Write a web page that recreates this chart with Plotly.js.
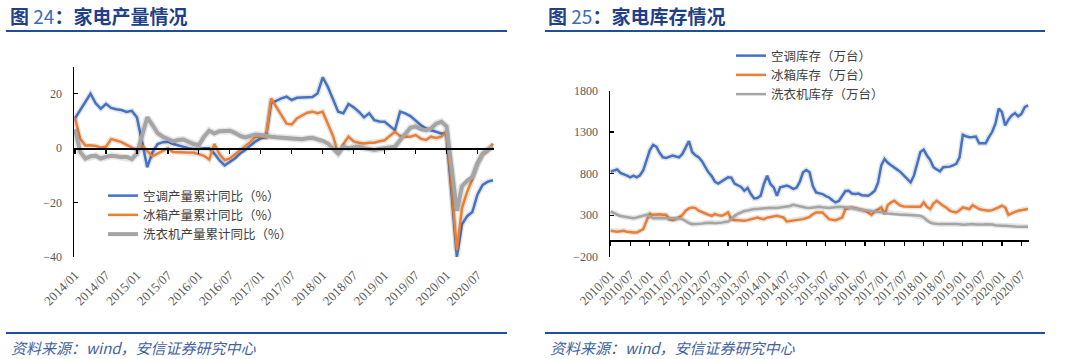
<!DOCTYPE html>
<html><head><meta charset="utf-8">
<script src="https://cdn.plot.ly/plotly-3.0.1.min.js"></script>
<style>html,body{margin:0;padding:0;background:#fff}#chart{width:1080px;height:359px}</style>
</head><body><div id="chart"></div>
<script>
// ---------- data: left panel (家电产量, 累计同比 %) ----------
const leftStart = [2014, 1], leftCount = 82;
const leftTickLabels = ['2014/01','2014/07','2015/01','2015/07','2016/01','2016/07','2017/01','2017/07','2018/01','2018/07','2019/01','2019/07','2020/01','2020/07'];
const acOutputYoY = [11,14,17,20,16.5,14.5,16.3,14.8,14.3,14,13.3,13.7,
  11.3,2,-7,-1.5,1.5,2.2,2.3,1.5,1,0.3,0,-0.3,
  -0.3,0,0,-2,-4.5,-6.3,-5,-3.8,-2,-0.7,1,2.5,
  3.6,4,16.5,17.5,18.3,18.9,17.7,18.5,18.7,18.7,18.8,20.1,
  26,22.5,18,13.4,12.8,16.2,15,13.4,11.3,12.8,10.3,9.8,
  9.7,8,6.6,13.4,12.8,11.8,10,8.5,7.2,6.6,6,5.4,
  5.4,-17,-40,-28,-25,-23.5,-17,-13.5,-12.3,-11.8];
const fridgeOutputYoY = [11,3.5,1,1.1,0.8,0.2,0.5,3.3,2.8,2.2,1.2,0.3,
  -0.7,1,-1,-3,-2,-1,0,-1.4,-1.5,-1.7,-1.7,-1.7,
  -2.2,-2.8,-4.2,1.5,-2.2,-4.4,-3.8,-2.3,-0.7,0.8,2.3,4.2,
  4,4,18.3,15.2,12.5,9,8.7,10.9,12,13,13.4,12.8,
  13.4,9,4.5,-2,1.5,4.2,2.5,2,1.7,2,2,2.5,
  2.9,4.5,6,4.5,4.2,4.2,4.8,3.5,3,4.2,3.7,4.2,
  6,-15,-37.6,-22,-16,-11.5,-6,-2.5,-1,1.7];
const washerOutputYoY = [7,-1.4,-3.8,-3,-2.8,-3.8,-3.2,-2.8,-3,-3.3,-3.2,-4,
  -2,5,11.3,8.5,5.5,4.2,3.2,2.5,3,3.2,2.3,1.5,
  1.1,4.2,6.4,5.4,6.2,6.2,6.4,5.6,4.5,3.9,4.5,5,
  4.8,4.4,4.2,4,3.9,3.6,3.5,3.4,3.3,3.6,3.8,3.2,
  2.7,1.7,0,-2,0.5,0,0.3,0.5,0,-0.5,-0.7,-0.3,
  0,0.3,0.5,2.9,5.5,7.5,8,7,6.6,7.2,9,9.7,
  8,-8,-23,-14,-12,-10.6,-5.6,-2,-0.5,0.5];
const leftNames = ['空调产量累计同比（%）','冰箱产量累计同比（%）','洗衣机产量累计同比（%）'];

// ---------- data: right panel (家电库存, 万台) ----------
const rightStart = [2010, 1], rightCount = 129;
const rightTickLabels = ['2010/01','2010/07','2011/01','2011/07','2012/01','2012/07','2013/01','2013/07','2014/01','2014/07','2015/01','2015/07','2016/01','2016/07','2017/01','2017/07','2018/01','2018/07','2019/01','2019/07','2020/01','2020/07'];
const acInventory = [823,840,850,808,796,775,755,775,755,780,
  840,950,1080,1146,1125,1050,996,989,1000,1017,
  1005,996,1037,1120,1190,1060,1020,996,950,880,
  815,770,700,680,700,730,755,750,680,655,
  640,594,627,554,500,505,534,675,775,675,
  634,534,634,645,655,640,615,630,700,815,
  844,815,650,574,560,554,530,513,480,453,
  470,534,590,594,560,554,560,540,534,534,
  560,594,690,900,977,930,900,876,845,815,
  775,735,694,775,936,1060,1089,1017,965,876,
  850,827,876,880,884,900,917,996,1267,1250,
  1238,1240,1246,1165,1165,1165,1238,1300,1400,1581,
  1540,1379,1450,1500,1528,1488,1520,1600,1621];
const fridgeInventory = [111,105,99,105,111,100,91,91,91,110,
  132,232,320,304,310,312,305,304,250,240,
  252,280,300,353,380,393,385,353,335,320,
  305,292,312,300,292,310,332,252,240,238,
  235,232,240,252,262,272,260,252,270,280,
  285,292,282,272,224,228,232,240,248,252,
  265,280,310,332,332,332,290,252,245,240,
  255,272,373,385,393,383,373,365,353,330,
  304,344,370,393,312,420,455,473,440,413,
  405,401,401,401,401,401,453,400,373,440,
  473,440,413,390,353,340,332,360,393,383,
  373,420,400,373,365,355,353,360,373,393,
  413,393,304,325,340,353,360,373,373];
const washerInventory = [344,320,305,290,282,275,268,264,272,282,
  295,304,285,264,264,264,264,266,270,272,
  265,258,252,230,205,192,192,192,198,205,
  211,208,204,204,210,218,224,250,292,315,
  335,350,355,365,373,375,380,388,393,390,
  387,385,392,398,401,410,425,415,401,395,
  390,385,392,398,401,395,388,385,392,398,
  401,398,396,393,385,378,373,365,358,353,
  350,346,344,336,328,320,315,310,304,304,
  304,304,304,300,296,292,272,240,211,200,
  192,192,192,194,197,199,195,190,184,188,
  192,192,188,184,186,190,192,188,178,171,
  171,171,171,167,163,159,159,159,159];
const rightNames = ['空调库存（万台）','冰箱库存（万台）','洗衣机库存（万台）'];

// ---------- helpers ----------
function monthLabels(start, n){
  const out=[]; let y=start[0], m=start[1];
  for(let i=0;i<n;i++){ out.push(y+'/'+String(m).padStart(2,'0')); m++; if(m>12){m=1;y++;} }
  return out;
}
const leftCats = monthLabels(leftStart, leftCount);
const rightCats = monthLabels(rightStart, rightCount);

const W=1080, H=359;
const fx = px => px/W, fy = py => 1 - py/H;
const colors = ['#4472C4','#ED7D31','#A5A5A5'];
const serif = 'Liberation Serif, Times New Roman, serif';
const cjk = 'Noto Sans CJK SC, sans-serif';

// geometry
const L = {x0:74, x1:494, yTop:66.5, yBot:257, yr:[-40,30], xr:[-0.2, leftCount-1+0.2]};
const R = {x0:610, x1:1029, yTop:90.5, yBot:256.7, yr:[-200,1800], xr:[-0.2, rightCount-1+0.3]};
function zeroPos(P){ const d0=fy(P.yBot), d1=fy(P.yTop); return d0 + (d1-d0)*(0-P.yr[0])/(P.yr[1]-P.yr[0]); }

const traces = [];
function addSeries(cats, vals, name, color, width, xa, ya, legend){
  traces.push({x:cats, y:vals, type:'scatter', mode:'lines', xaxis:xa, yaxis:ya, showlegend:false, hoverinfo:'skip',
    line:{color:'rgba(0,0,0,0.10)', width:width+3}});
  traces.push({x:cats, y:vals, type:'scatter', mode:'lines', name:name, xaxis:xa, yaxis:ya, legend:legend,
    line:{color:color, width:width}});
}
addSeries(leftCats, acOutputYoY, leftNames[0], colors[0], 2.5, 'x', 'y', 'legend');
addSeries(leftCats, fridgeOutputYoY, leftNames[1], colors[1], 2.5, 'x', 'y', 'legend');
addSeries(leftCats, washerOutputYoY, leftNames[2], colors[2], 4, 'x', 'y', 'legend');
addSeries(rightCats, acInventory, rightNames[0], colors[0], 2.5, 'x3', 'y3', 'legend2');
addSeries(rightCats, fridgeInventory, rightNames[1], colors[1], 2.5, 'x3', 'y3', 'legend2');
addSeries(rightCats, washerInventory, rightNames[2], colors[2], 2.5, 'x3', 'y3', 'legend2');
// helper traces so that the zero-line tick axes are created
traces.push({x:[0], y:[0], xaxis:'x2', yaxis:'y', mode:'lines', showlegend:false, hoverinfo:'skip', line:{color:'rgba(0,0,0,0)'}});
traces.push({x:[0], y:[0], xaxis:'x4', yaxis:'y3', mode:'lines', showlegend:false, hoverinfo:'skip', line:{color:'rgba(0,0,0,0)'}});

function catAxis(P, labels, anchor){
  return {domain:[fx(P.x0), fx(P.x1)], anchor:anchor, type:'category', range:P.xr,
    showline:false, showgrid:false, zeroline:false, ticks:'',
    tickmode:'array', tickvals:labels, ticktext:labels, tickangle:-45,
    ticklabelstandoff:7, tickfont:{family:serif, size:13, color:'#595959'}};
}
function zeroAxis(P, over){
  return {overlaying:over, anchor:'free', position:zeroPos(P), type:'linear', range:P.xr,
    showline:true, linecolor:'#000', linewidth:1.5, ticks:'outside', ticklen:4, tickwidth:1.2, tickcolor:'#000',
    tickmode:'linear', tick0:0, dtick:6, showticklabels:false, showgrid:false, zeroline:false};
}
function valAxis(P, anchor, tv){
  return {domain:[fy(P.yBot), fy(P.yTop)], anchor:anchor, range:P.yr, tickvals:tv,
    showline:true, linecolor:'#000', linewidth:1.5, ticks:'inside', ticklen:4, tickwidth:1.2, tickcolor:'#000',
    showgrid:false, zeroline:false, ticklabelstandoff:8, tickfont:{family:serif, size:12, color:'#595959'}};
}

const navy = '#1F3F8A';
const layout = {
  width:W, height:H, margin:{l:0,r:0,t:0,b:0}, paper_bgcolor:'#fff', plot_bgcolor:'rgba(0,0,0,0)',
  showlegend:true,
  xaxis: catAxis(L, leftTickLabels, 'y'),
  xaxis2: zeroAxis(L, 'x'),
  yaxis: valAxis(L, 'x', [-40,-20,0,20]),
  xaxis3: catAxis(R, rightTickLabels, 'y3'),
  xaxis4: zeroAxis(R, 'x3'),
  yaxis3: valAxis(R, 'x3', [-200,300,800,1300,1800]),
  legend:{x:fx(103), y:fy(181), xanchor:'left', yanchor:'top', bgcolor:'rgba(0,0,0,0)', borderwidth:0,
    font:{family:cjk, size:12.5, color:'#404040'}, tracegroupgap:0},
  legend2:{x:fx(731), y:fy(41), xanchor:'left', yanchor:'top', bgcolor:'rgba(0,0,0,0)', borderwidth:0,
    font:{family:cjk, size:12.5, color:'#404040'}, tracegroupgap:0},
  shapes:[
    {type:'line', xref:'paper', yref:'paper', x0:fx(6), x1:fx(507), y0:fy(31), y1:fy(31), line:{color:'#1F4E9C', width:2}},
    {type:'line', xref:'paper', yref:'paper', x0:fx(545), x1:fx(1045), y0:fy(31), y1:fy(31), line:{color:'#1F4E9C', width:2}},
    {type:'line', xref:'paper', yref:'paper', x0:fx(6), x1:fx(507), y0:fy(333), y1:fy(333), line:{color:'#1F4E9C', width:2}},
    {type:'line', xref:'paper', yref:'paper', x0:fx(545), x1:fx(1045), y0:fy(333), y1:fy(333), line:{color:'#1F4E9C', width:2}}
  ],
  annotations:[
    {xref:'paper', yref:'paper', x:fx(8), y:fy(16), xanchor:'left', yanchor:'middle', showarrow:false,
     text:'<b>图</b> <span style="color:#3A6AB8">24</span><b>：家电产量情况</b>', font:{family:cjk, size:19, color:navy}},
    {xref:'paper', yref:'paper', x:fx(546), y:fy(16), xanchor:'left', yanchor:'middle', showarrow:false,
     text:'<b>图</b> <span style="color:#3A6AB8">25</span><b>：家电库存情况</b>', font:{family:cjk, size:19, color:navy}},
    {xref:'paper', yref:'paper', x:fx(9), y:fy(347), xanchor:'left', yanchor:'middle', showarrow:false,
     text:'<i>资料来源：wind，安信证券研究中心</i>', font:{family:cjk, size:15, color:'#3F62A3'}},
    {xref:'paper', yref:'paper', x:fx(548), y:fy(347), xanchor:'left', yanchor:'middle', showarrow:false,
     text:'<i>资料来源：wind，安信证券研究中心</i>', font:{family:cjk, size:15, color:'#3F62A3'}}
  ]
};
Plotly.newPlot('chart', traces, layout, {staticPlot:true, displayModeBar:false});
</script></body></html>
